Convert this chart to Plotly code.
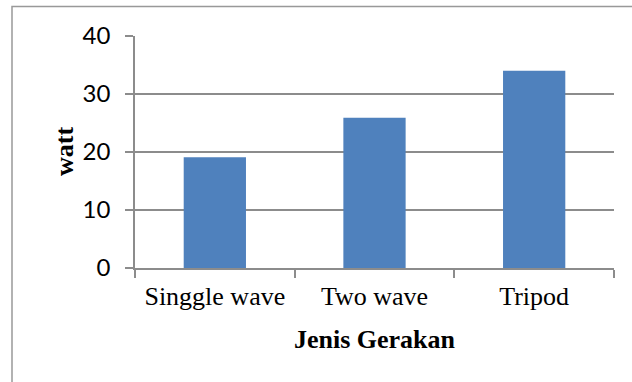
import plotly.graph_objects as go

categories = ["Singgle wave", "Two wave", "Tripod"]
watt_values = [19.1, 25.9, 34.0]
y_ticks = [0, 10, 20, 30, 40]

W, H = 632, 382
L, R, T, B = 135, 18, 36, 114
pw, ph = W - L - R, H - T - B

fig = go.Figure(go.Bar(
    x=categories, y=watt_values,
    marker=dict(color="#4F81BD", line=dict(width=0)),
))

grid = "#8C8C8C"
fig.update_layout(
    width=W, height=H,
    margin=dict(l=L, r=R, t=T, b=B),
    paper_bgcolor="white", plot_bgcolor="white",
    bargap=0.61, showlegend=False,
    xaxis=dict(
        type="category", range=[-0.5, 2.5],
        tickson="boundaries", ticks="outside", ticklen=8, tickcolor=grid, tickwidth=1.5,
        showline=True, linecolor=grid, linewidth=1.5, showgrid=False,
        ticklabelstandoff=4,
        tickfont=dict(family="Liberation Serif", size=26, color="black"),
        title=dict(text="<b>Jenis Gerakan</b>", standoff=20,
                   font=dict(family="Liberation Serif", size=26, color="black")),
    ),
    yaxis=dict(
        range=[0, 40], tickvals=y_ticks, ticks="outside", ticklen=8,
        tickcolor=grid, tickwidth=1.5,
        showline=True, linecolor=grid, linewidth=1.5,
        showgrid=True, gridcolor=grid, gridwidth=1.5, zeroline=False,
        ticklabelstandoff=10,
        tickfont=dict(family="Lato", size=24, color="black"),
    ),
    annotations=[dict(
        text="<b>watt</b>", xref="paper", yref="paper",
        x=(64 - L) / pw, y=0.5, xanchor="center", yanchor="middle",
        textangle=-90, showarrow=False,
        font=dict(family="Liberation Serif", size=26, color="black"),
    )],
    shapes=[dict(
        type="rect", xref="paper", yref="paper",
        x0=(12 - L) / pw, x1=(W + 20 - L) / pw,
        y0=-(H + 20 - (T + ph)) / ph, y1=(T + ph - 6.5) / ph,
        line=dict(color="#999999", width=1.5), fillcolor="rgba(0,0,0,0)", layer="below",
    )],
)

fig.write_html("out.html", config={"displayModeBar": False},
               post_script="document.body.style.margin='0';")
